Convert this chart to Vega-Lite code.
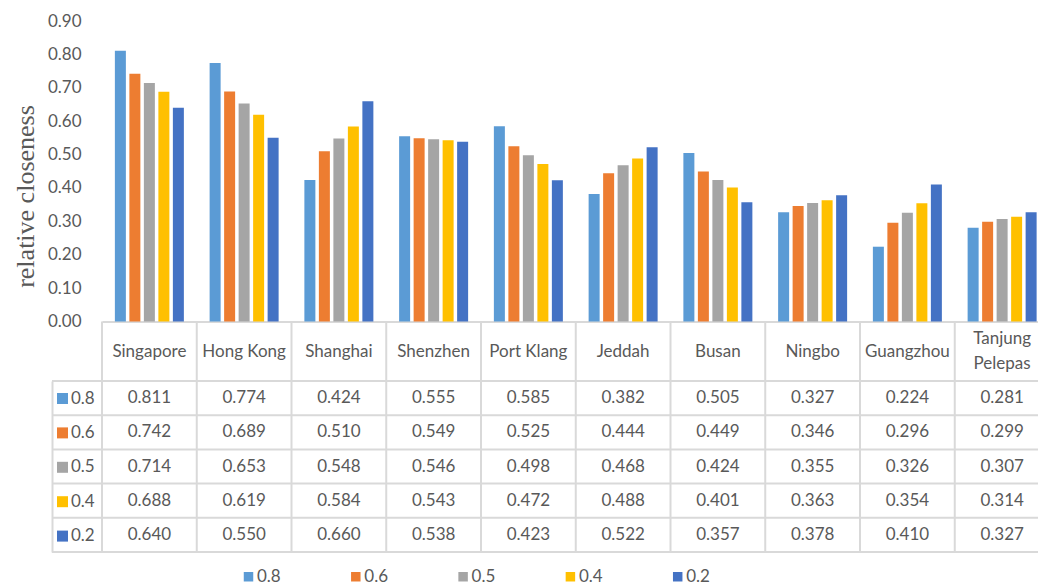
{
  "$schema": "https://vega.github.io/schema/vega-lite/v6.json",
  "width": 986,
  "height": 531,
  "autosize": "none",
  "padding": {"left": 52, "top": 21, "right": 0, "bottom": 33},
  "background": "white",
  "config": {"view": {"stroke": null}},
  "datasets": {
    "main": [
      {"port": "Singapore", "series": "0.8", "value": 0.811},
      {"port": "Hong Kong", "series": "0.8", "value": 0.774},
      {"port": "Shanghai", "series": "0.8", "value": 0.424},
      {"port": "Shenzhen", "series": "0.8", "value": 0.555},
      {"port": "Port Klang", "series": "0.8", "value": 0.585},
      {"port": "Jeddah", "series": "0.8", "value": 0.382},
      {"port": "Busan", "series": "0.8", "value": 0.505},
      {"port": "Ningbo", "series": "0.8", "value": 0.327},
      {"port": "Guangzhou", "series": "0.8", "value": 0.224},
      {"port": "Tanjung Pelepas", "series": "0.8", "value": 0.281},
      {"port": "Singapore", "series": "0.6", "value": 0.742},
      {"port": "Hong Kong", "series": "0.6", "value": 0.689},
      {"port": "Shanghai", "series": "0.6", "value": 0.510},
      {"port": "Shenzhen", "series": "0.6", "value": 0.549},
      {"port": "Port Klang", "series": "0.6", "value": 0.525},
      {"port": "Jeddah", "series": "0.6", "value": 0.444},
      {"port": "Busan", "series": "0.6", "value": 0.449},
      {"port": "Ningbo", "series": "0.6", "value": 0.346},
      {"port": "Guangzhou", "series": "0.6", "value": 0.296},
      {"port": "Tanjung Pelepas", "series": "0.6", "value": 0.299},
      {"port": "Singapore", "series": "0.5", "value": 0.714},
      {"port": "Hong Kong", "series": "0.5", "value": 0.653},
      {"port": "Shanghai", "series": "0.5", "value": 0.548},
      {"port": "Shenzhen", "series": "0.5", "value": 0.546},
      {"port": "Port Klang", "series": "0.5", "value": 0.498},
      {"port": "Jeddah", "series": "0.5", "value": 0.468},
      {"port": "Busan", "series": "0.5", "value": 0.424},
      {"port": "Ningbo", "series": "0.5", "value": 0.355},
      {"port": "Guangzhou", "series": "0.5", "value": 0.326},
      {"port": "Tanjung Pelepas", "series": "0.5", "value": 0.307},
      {"port": "Singapore", "series": "0.4", "value": 0.688},
      {"port": "Hong Kong", "series": "0.4", "value": 0.619},
      {"port": "Shanghai", "series": "0.4", "value": 0.584},
      {"port": "Shenzhen", "series": "0.4", "value": 0.543},
      {"port": "Port Klang", "series": "0.4", "value": 0.472},
      {"port": "Jeddah", "series": "0.4", "value": 0.488},
      {"port": "Busan", "series": "0.4", "value": 0.401},
      {"port": "Ningbo", "series": "0.4", "value": 0.363},
      {"port": "Guangzhou", "series": "0.4", "value": 0.354},
      {"port": "Tanjung Pelepas", "series": "0.4", "value": 0.314},
      {"port": "Singapore", "series": "0.2", "value": 0.640},
      {"port": "Hong Kong", "series": "0.2", "value": 0.550},
      {"port": "Shanghai", "series": "0.2", "value": 0.660},
      {"port": "Shenzhen", "series": "0.2", "value": 0.538},
      {"port": "Port Klang", "series": "0.2", "value": 0.423},
      {"port": "Jeddah", "series": "0.2", "value": 0.522},
      {"port": "Busan", "series": "0.2", "value": 0.357},
      {"port": "Ningbo", "series": "0.2", "value": 0.378},
      {"port": "Guangzhou", "series": "0.2", "value": 0.410},
      {"port": "Tanjung Pelepas", "series": "0.2", "value": 0.327}
    ],
    "rows": [
      {"series": "0.8"}, {"series": "0.6"}, {"series": "0.5"}, {"series": "0.4"}, {"series": "0.2"}
    ],
    "ports": [
      {"port": "Singapore"}, {"port": "Hong Kong"}, {"port": "Shanghai"}, {"port": "Shenzhen"},
      {"port": "Port Klang"}, {"port": "Jeddah"}, {"port": "Busan"}, {"port": "Ningbo"},
      {"port": "Guangzhou"}, {"port": "Tanjung Pelepas"}
    ]
  },
  "resolve": {"scale": {"y": "independent"}},
  "layer": [
    {
      "layer": [
        {
          "data": {"name": "main"},
          "mark": {"type": "bar"},
          "encoding": {
            "x": {
              "field": "port", "type": "nominal",
              "scale": {
                "domain": ["Singapore", "Hong Kong", "Shanghai", "Shenzhen", "Port Klang", "Jeddah", "Busan", "Ningbo", "Guangzhou", "Tanjung Pelepas"],
                "range": [50, 997.5], "paddingInner": 0, "paddingOuter": 0
              },
              "axis": {
                "orient": "bottom", "offset": -230.5, "title": null,
                "domain": true, "domainColor": "#d9d9d9", "domainWidth": 2,
                "ticks": false, "grid": false, "labelAngle": 0,
                "labelFont": "Lato", "labelFontSize": 17, "labelColor": "#595959",
                "labelBaseline": "middle",
                "labelPadding": {"condition": {"test": "datum.value == 'Tanjung Pelepas'", "value": 17}, "value": 29.5},
                "labelLineHeight": 24.5,
                "labelLimit": 0,
                "labelExpr": "datum.value == 'Tanjung Pelepas' ? ['Tanjung', 'Pelepas'] : datum.value"
              }
            },
            "xOffset": {
              "field": "series", "type": "nominal",
              "scale": {"domain": ["0.8", "0.6", "0.5", "0.4", "0.2"], "paddingInner": 0.2414, "paddingOuter": 0.888}
            },
            "y": {
              "field": "value", "type": "quantitative", "stack": null,
              "scale": {"domain": [-0.6903, 0.9], "nice": false, "zero": false},
              "axis": {
                "orient": "left", "values": [0, 0.1, 0.2, 0.3, 0.4, 0.5, 0.6, 0.7, 0.8, 0.9],
                "format": ".2f", "grid": false, "domain": false, "ticks": false,
                "labelAlign": "right", "labelBaseline": "middle", "labelPadding": -29,
                "labelFont": "Lato", "labelFontSize": 17, "labelColor": "#595959",
                "title": "relative closeness", "titleFont": "Liberation Serif", "titleFontSize": 26,
                "titleFontWeight": "normal", "titleColor": "#595959",
                "titleX": -19, "titleY": 175, "titleAlign": "center", "titleBaseline": "alphabetic", "titleAngle": -90
              }
            },
            "color": {
              "field": "series", "type": "nominal",
              "scale": {"domain": ["0.8", "0.6", "0.5", "0.4", "0.2"], "range": ["#5B9BD5", "#ED7D31", "#A5A5A5", "#FFC000", "#4472C4"]},
              "legend": {
                "orient": "none", "legendX": 188, "legendY": 547, "direction": "horizontal", "title": null,
                "symbolType": "square", "symbolSize": 90, "symbolStrokeWidth": 0,
                "labelFont": "Lato", "labelFontSize": 17, "labelColor": "#595959",
                "columnPadding": 66.3, "padding": 0, "labelOffset": 0
              }
            }
          }
        },
        {
          "data": {"name": "ports"},
          "mark": {"type": "rule", "color": "#d9d9d9", "strokeWidth": 2},
          "encoding": {
            "x": {"field": "port", "type": "nominal", "bandPosition": 0},
            "y": {"datum": 0},
            "y2": {"datum": -0.6903}
          }
        }
      ]
    },
    {
      "layer": [
        {
          "data": {"name": "main"},
          "mark": {"type": "text", "font": "Lato", "fontSize": 17, "color": "#595959", "baseline": "middle", "align": "center"},
          "encoding": {
            "x": {"field": "port", "type": "nominal"},
            "y": {
              "field": "series", "type": "nominal",
              "scale": {"domain": ["0.8", "0.6", "0.5", "0.4", "0.2"], "range": [360, 531], "paddingInner": 0, "paddingOuter": 0},
              "axis": {"orient": "left", "labels": false, "ticks": false, "grid": false, "title": null, "domain": true, "domainColor": "#d9d9d9", "domainWidth": 2}
            },
            "text": {"field": "value", "type": "quantitative", "format": ".3f"}
          }
        },
        {
          "data": {"name": "rows"},
          "mark": {"type": "rule", "color": "#d9d9d9", "strokeWidth": 2},
          "encoding": {
            "y": {"field": "series", "type": "nominal", "bandPosition": 0}
          }
        },
        {
          "data": {"name": "rows"},
          "mark": {"type": "rule", "color": "#d9d9d9", "strokeWidth": 2},
          "encoding": {
            "y": {"datum": "0.2", "type": "nominal", "bandPosition": 1}
          }
        },
        {
          "data": {"name": "rows"},
          "mark": {"type": "point", "shape": "square", "filled": true, "opacity": 0},
          "encoding": {
            "y": {"field": "series", "type": "nominal"},
            "fill": {
              "field": "series", "type": "nominal", "sort": null,
              "scale": {"range": ["#5B9BD5", "#ED7D31", "#A5A5A5", "#FFC000", "#4472C4"]},
              "legend": {
                "orient": "none", "legendX": 2, "legendY": 369, "direction": "vertical", "title": null,
                "symbolType": "square", "symbolSize": 121, "symbolStrokeWidth": 0, "symbolOpacity": 1,
                "labelFont": "Lato", "labelFontSize": 17, "labelColor": "#595959",
                "rowPadding": 16.4, "padding": 0, "labelOffset": 0
              }
            }
          }
        }
      ]
    }
  ]
}
